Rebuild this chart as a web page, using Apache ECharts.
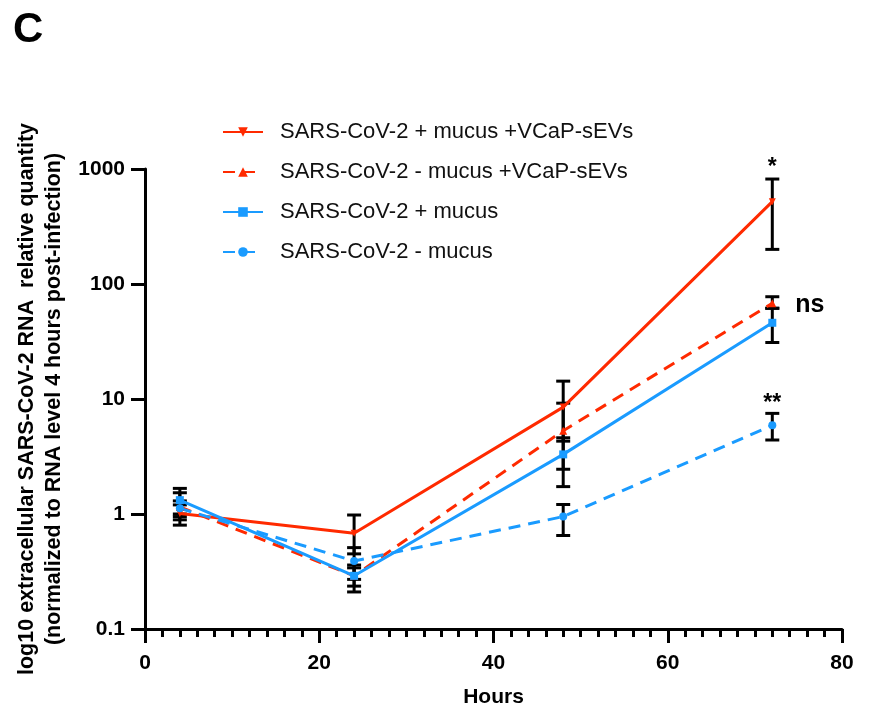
<!DOCTYPE html>
<html>
<head>
<meta charset="utf-8">
<script src="https://cdn.jsdelivr.net/npm/echarts@6/dist/echarts.min.js"></script>
<style>
  html, body { margin: 0; padding: 0; background: #fff; }
  #chart { width: 869px; height: 713px; }
</style>
</head>
<body>
<div id="chart"></div>
<script>
var hours = [4, 24, 48, 72];

var names = [
  'SARS-CoV-2 + mucus +VCaP-sEVs',
  'SARS-CoV-2 - mucus +VCaP-sEVs',
  'SARS-CoV-2 + mucus',
  'SARS-CoV-2 - mucus'
];

// mean values
var plusMucusVcap = [1.01, 0.68, 8.5, 520];
var minusMucusVcap = [1.15, 0.29, 5.3, 68];
var plusMucus = [1.32, 0.29, 3.3, 46];
var minusMucus = [1.12, 0.39, 0.95, 5.9];

// error bars [low, high]
var plusMucusVcapErr = [[0.80, 1.20], [0.45, 0.98], [4.3, 14.3], [200, 818]];
var minusMucusVcapErr = [[0.89, 1.53], [0.21, 0.36], [2.45, 9.2], [61.5, 77.5]];
var plusMucusErr = [[1.0, 1.67], [0.236, 0.34], [1.73, 4.6], [31, 61.5]];
var minusMucusErr = [[0.95, 1.30], [0.27, 0.51], [0.65, 1.21], [4.4, 7.5]];

var yTicks = [0.1, 1, 10, 100, 1000];

// significance marks at 72 h
var sigLabels = [
  { text: '*', x: 72, y: 1020, dx: 0 },
  { text: 'ns', x: 72, y: 66, dx: 23 },
  { text: '**', x: 72, y: 9.2, dx: 0 }
];

var red = '#ff2a00';
var blue = '#1a9bff';

function pairs(vals) {
  var out = [];
  for (var i = 0; i < hours.length; i++) out.push([hours[i], vals[i]]);
  return out;
}

function errData(errs) {
  var out = [];
  for (var i = 0; i < hours.length; i++) out.push([hours[i], errs[i][0], errs[i][1]]);
  return out;
}

function errorSeries(errs) {
  return {
    type: 'custom',
    z: 3,
    silent: true,
    data: errData(errs),
    renderItem: function (params, api) {
      var x = api.value(0);
      var lo = api.coord([x, api.value(1)]);
      var hi = api.coord([x, api.value(2)]);
      var w = 7;
      var st = { stroke: '#000', lineWidth: 3 };
      return {
        type: 'group',
        children: [
          { type: 'line', shape: { x1: lo[0], y1: lo[1], x2: hi[0], y2: hi[1] }, style: st },
          { type: 'line', shape: { x1: lo[0] - w, y1: lo[1], x2: lo[0] + w, y2: lo[1] }, style: st },
          { type: 'line', shape: { x1: hi[0] - w, y1: hi[1], x2: hi[0] + w, y2: hi[1] }, style: st }
        ]
      };
    }
  };
}

function lineSeries(name, vals, color, dashed, symbol, rotate, size) {
  return {
    name: name,
    type: 'line',
    z: 4,
    data: pairs(vals),
    symbol: symbol,
    symbolRotate: rotate,
    symbolSize: size,
    showAllSymbol: true,
    color: color,
    itemStyle: { color: color },
    lineStyle: { color: color, width: 3, type: dashed ? [12, 8] : 'solid' }
  };
}

var chart = echarts.init(document.getElementById('chart'));

chart.setOption({
  animation: false,
  backgroundColor: '#fff',
  textStyle: { fontFamily: 'Liberation Sans, Arial, sans-serif' },
  title: {
    text: 'C',
    left: 8,
    top: 4,
    textStyle: { fontSize: 42, fontWeight: 'bold', color: '#000' }
  },
  grid: { left: 145, right: 27, top: 169, bottom: 84 },
  legend: {
    data: names,
    orient: 'vertical',
    left: 217,
    top: 116,
    itemWidth: 40,
    itemHeight: 12,
    itemGap: 18,
    textStyle: { fontSize: 22, color: '#111', padding: [0, 0, 0, 12] }
  },
  xAxis: {
    type: 'value',
    min: 0,
    max: 80,
    interval: 20,
    name: 'Hours',
    nameLocation: 'middle',
    nameGap: 58,
    nameTextStyle: { fontSize: 21, fontWeight: 'bold', color: '#000' },
    axisLine: { lineStyle: { color: '#000', width: 3 } },
    axisTick: { length: 14, lineStyle: { color: '#000', width: 3 } },
    minorTick: { show: true, splitNumber: 10, length: 8, lineStyle: { color: '#000', width: 3 } },
    splitLine: { show: false },
    axisLabel: { fontSize: 21, fontWeight: 'bold', color: '#000', margin: 24 }
  },
  yAxis: {
    type: 'log',
    logBase: 10,
    min: 0.1,
    max: 1000,
    name: 'log10 extracellular SARS-CoV-2 RNA  relative quantity\n(normalized to RNA level 4 hours post-infection)',
    nameLocation: 'middle',
    nameGap: 76,
    nameRotate: 90,
    nameTextStyle: { fontSize: 21.5, fontWeight: 'bold', color: '#000', lineHeight: 27 },
    axisLine: { show: true, lineStyle: { color: '#000', width: 3 } },
    axisTick: { length: 14, lineStyle: { color: '#000', width: 3 } },
    splitLine: { show: false },
    axisLabel: {
      fontSize: 21,
      fontWeight: 'bold',
      color: '#000',
      margin: 20,
      formatter: function (v) {
        for (var i = 0; i < yTicks.length; i++) {
          if (Math.abs(v - yTicks[i]) / yTicks[i] < 1e-6) return String(yTicks[i]);
        }
        return '';
      }
    }
  },
  series: [
    errorSeries(plusMucusVcapErr),
    errorSeries(minusMucusVcapErr),
    errorSeries(plusMucusErr),
    errorSeries(minusMucusErr),
    lineSeries(names[0], plusMucusVcap, red, false, 'triangle', 180, 7),
    lineSeries(names[1], minusMucusVcap, red, true, 'triangle', 0, 8),
    lineSeries(names[2], plusMucus, blue, false, 'rect', 0, 8),
    lineSeries(names[3], minusMucus, blue, true, 'circle', 0, 8)
  ]
});

var marks = [];
for (var i = 0; i < sigLabels.length; i++) {
  var p = chart.convertToPixel({ gridIndex: 0 }, [sigLabels[i].x, sigLabels[i].y]);
  marks.push({
    type: 'text',
    x: p[0] + sigLabels[i].dx,
    y: p[1],
    style: {
      text: sigLabels[i].text,
      fontSize: sigLabels[i].text === 'ns' ? 25 : 23,
      fontWeight: 'bold',
      fontFamily: 'Liberation Sans, Arial, sans-serif',
      fill: '#000',
      align: sigLabels[i].dx ? 'left' : 'center',
      verticalAlign: 'middle'
    }
  });
}
chart.setOption({ graphic: marks });
</script>
</body>
</html>
